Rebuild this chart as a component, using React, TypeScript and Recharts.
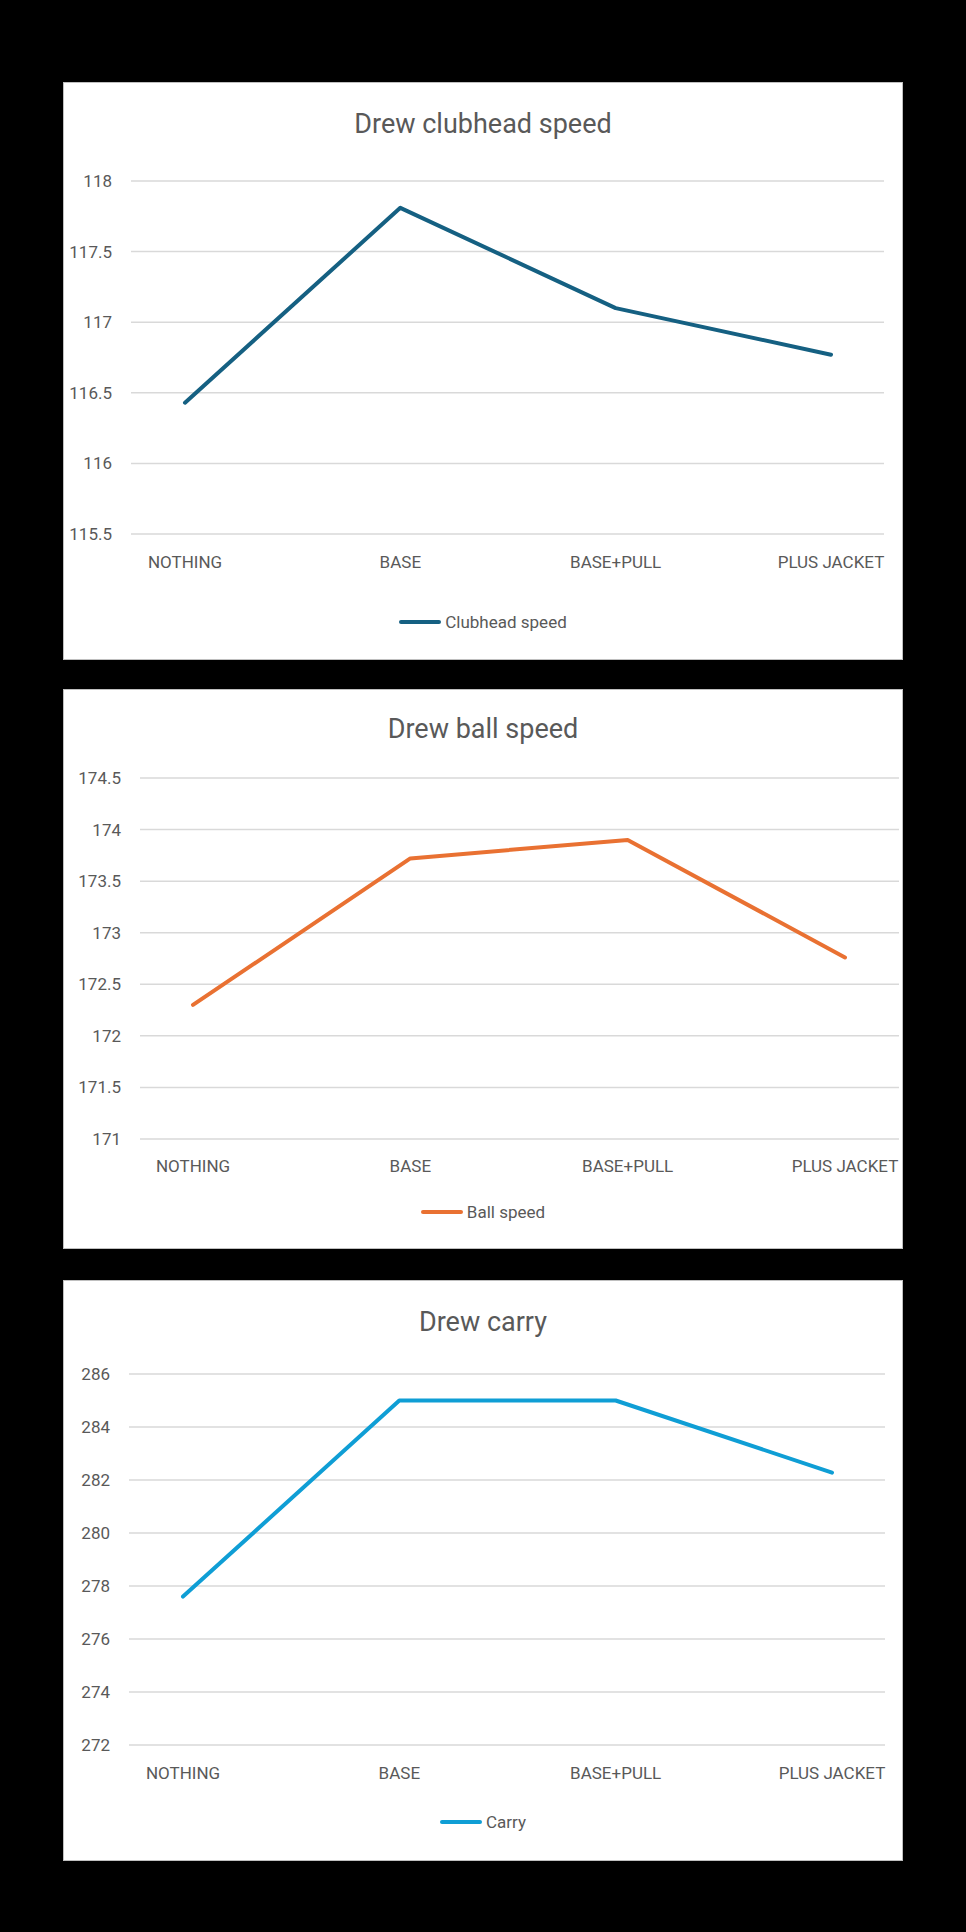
import { LineChart, Line, XAxis, YAxis, CartesianGrid } from "recharts";

const categories = ["NOTHING", "BASE", "BASE+PULL", "PLUS JACKET"];

const clubheadSpeed = [116.43, 117.81, 117.1, 116.77];
const ballSpeed = [172.3, 173.72, 173.9, 172.76];
const carry = [277.6, 285, 285, 282.28];

const clubheadTicks = [115.5, 116, 116.5, 117, 117.5, 118];
const ballTicks = [171, 171.5, 172, 172.5, 173, 173.5, 174, 174.5];
const carryTicks = [272, 274, 276, 278, 280, 282, 284, 286];

const FONT = "Roboto, 'Noto Sans', sans-serif";
const TEXT = "#595959";

interface PanelProps {
  title: string;
  seriesName: string;
  values: number[];
  ticks: number[];
  color: string;
  top: number;
  height: number;
  plotLeft: number;
  plotRight: number;
  plotTop: number;
  plotBottom: number;
  padLeft: number;
  padRight: number;
  xLabelMargin: number;
  titleY: number;
  legendY: number;
}

const PANEL_LEFT = 64;
const PANEL_WIDTH = 838;

function ChartPanel(p: PanelProps) {
  const data = categories.map((c, i) => ({ name: c, value: p.values[i] }));
  const axisHeight = 30;
  return (
    <div
      style={{
        position: "absolute",
        left: PANEL_LEFT,
        top: p.top,
        width: PANEL_WIDTH,
        height: p.height,
        background: "#fff",
        boxShadow: "0 0 0 1px #BFBFBF",
        fontFamily: FONT,
      }}
    >
      <div
        style={{
          position: "absolute",
          left: 0,
          width: PANEL_WIDTH,
          top: p.titleY - 17,
          height: 34,
          lineHeight: "34px",
          textAlign: "center",
          fontSize: 27,
          color: TEXT,
        }}
      >
        {p.title}
      </div>
      <div style={{ position: "absolute", left: 0, top: 0 }}>
        <LineChart
          width={PANEL_WIDTH}
          height={p.height}
          data={data}
          margin={{
            top: p.plotTop,
            left: 0,
            right: PANEL_WIDTH - p.plotRight,
            bottom: p.height - p.plotBottom - axisHeight,
          }}
        >
          <CartesianGrid vertical={false} stroke="#D9D9D9" strokeWidth={1.5} />
          <XAxis
            dataKey="name"
            height={axisHeight}
            axisLine={false}
            tickLine={false}
            tickSize={0}
            tickMargin={p.xLabelMargin}
            padding={{ left: p.padLeft, right: p.padRight }}
            tick={{ fontSize: 17, fill: TEXT, fontFamily: FONT }}
            interval={0}
          />
          <YAxis
            width={p.plotLeft}
            domain={[p.ticks[0], p.ticks[p.ticks.length - 1]]}
            ticks={p.ticks}
            axisLine={false}
            tickLine={false}
            tickSize={0}
            tickMargin={19}
            tick={{ fontSize: 17, fill: TEXT, fontFamily: FONT }}
            interval={0}
          />
          <Line
            type="linear"
            dataKey="value"
            name={p.seriesName}
            stroke={p.color}
            strokeWidth={4}
            strokeLinecap="round"
            strokeLinejoin="round"
            dot={false}
            activeDot={false}
            isAnimationActive={false}
          />
        </LineChart>
      </div>
      <div
        style={{
          position: "absolute",
          left: 0,
          width: PANEL_WIDTH,
          top: p.legendY - 12,
          height: 24,
          display: "flex",
          alignItems: "center",
          justifyContent: "center",
          fontSize: 17,
          color: TEXT,
        }}
      >
        <span
          style={{
            display: "inline-block",
            width: 42,
            height: 4,
            borderRadius: 2,
            background: p.color,
            marginRight: 4,
          }}
        />
        <span>{p.seriesName}</span>
      </div>
    </div>
  );
}

export default function App() {
  return (
    <div
      style={{
        position: "absolute",
        left: 0,
        top: 0,
        width: 966,
        height: 1932,
        background: "#000",
      }}
    >
      <ChartPanel
        title="Drew clubhead speed"
        seriesName="Clubhead speed"
        values={clubheadSpeed}
        ticks={clubheadTicks}
        color="#156082"
        top={83}
        height={576}
        plotLeft={67}
        plotRight={820}
        plotTop={98}
        plotBottom={451}
        padLeft={54}
        padRight={53}
        xLabelMargin={22}
        titleY={41}
        legendY={539}
      />
      <ChartPanel
        title="Drew ball speed"
        seriesName="Ball speed"
        values={ballSpeed}
        ticks={ballTicks}
        color="#E97132"
        top={690}
        height={558}
        plotLeft={76}
        plotRight={835}
        plotTop={88}
        plotBottom={449}
        padLeft={53}
        padRight={54}
        xLabelMargin={21}
        titleY={39}
        legendY={522}
      />
      <ChartPanel
        title="Drew carry"
        seriesName="Carry"
        values={carry}
        ticks={carryTicks}
        color="#0F9ED5"
        top={1281}
        height={579}
        plotLeft={65}
        plotRight={821}
        plotTop={93}
        plotBottom={464}
        padLeft={54}
        padRight={53}
        xLabelMargin={22}
        titleY={41}
        legendY={541}
      />
    </div>
  );
}
